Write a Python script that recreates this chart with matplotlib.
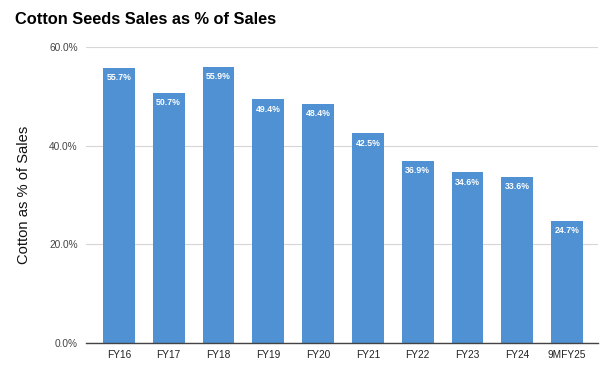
import matplotlib
matplotlib.use("Agg")
import matplotlib.pyplot as plt
from matplotlib.ticker import FuncFormatter

categories = ["FY16", "FY17", "FY18", "FY19", "FY20", "FY21", "FY22", "FY23", "FY24", "9MFY25"]
values = [55.7, 50.7, 55.9, 49.4, 48.4, 42.5, 36.9, 34.6, 33.6, 24.7]
yticks = [0, 20, 40, 60]

plt.rcParams['font.family'] = ['Liberation Sans', 'DejaVu Sans']

fig = plt.figure(figsize=(6.0, 3.72), dpi=100)
ax = fig.add_axes([86/600, 29/372, 512/600, 296/372])

bar_color = "#4f91d3"
x = list(range(len(categories)))
bars = ax.bar(x, values, width=0.64, color=bar_color, zorder=3)

for xi, v in zip(x, values):
    ax.annotate(f"{v:.1f}%", xy=(xi, v), xytext=(0, -7), textcoords="offset points",
                ha="center", va="center", color="white", fontsize=6.3, fontweight="bold", zorder=4)

ax.set_xlim(-0.66, 9.62)
ax.set_ylim(0, 60)
ax.set_yticks(yticks)
ax.yaxis.set_major_formatter(FuncFormatter(lambda v, p: f"{v:.1f}%"))
ax.set_xticks(x)
ax.set_xticklabels(categories)

ax.grid(axis="y", color="#d6d6d6", linewidth=0.8, zorder=0)
for s in ["top", "right", "left"]:
    ax.spines[s].set_visible(False)
ax.spines["bottom"].set_color("#444444")
ax.spines["bottom"].set_linewidth(1.0)
ax.spines["bottom"].set_zorder(5)

ax.tick_params(axis="y", length=0, pad=6, labelsize=7.3, labelcolor="#444444")
ax.tick_params(axis="x", length=0, pad=5, labelsize=7.3, labelcolor="#222222")

ax.set_ylabel("Cotton as % of Sales", fontsize=10.6, color="#111111", labelpad=13)

fig.text(15/600, 1 - 24/372, "Cotton Seeds Sales as % of Sales", fontsize=11.8,
         fontweight="bold", color="#000000", ha="left", va="baseline")

fig.savefig("out.png", dpi=100)
